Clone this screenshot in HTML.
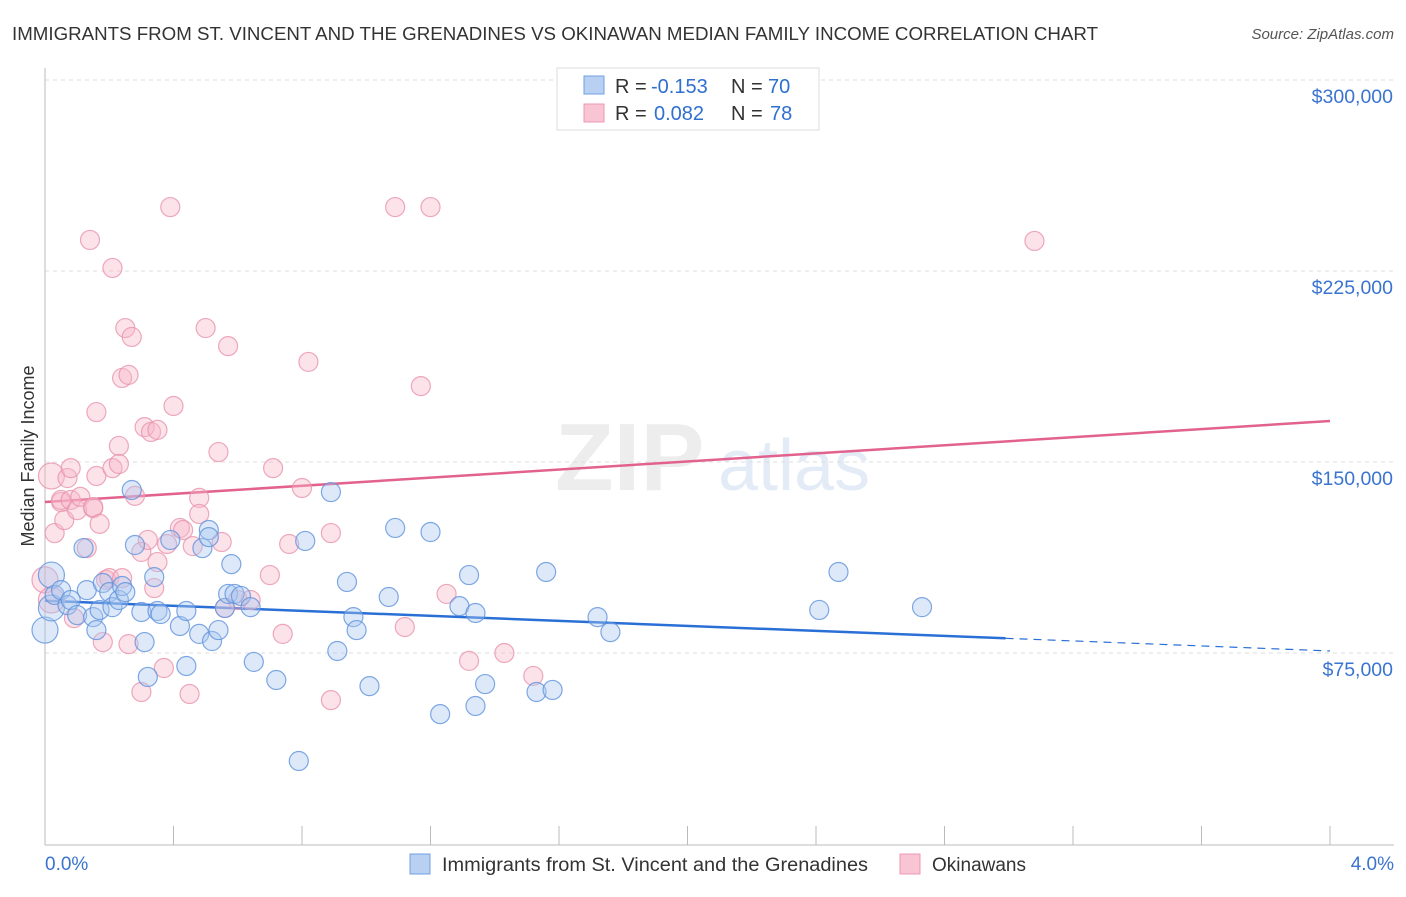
<!DOCTYPE html>
<html><head><meta charset="utf-8"><style>
body{margin:0;background:#fff;font-family:"Liberation Sans",sans-serif}
svg text{font-family:"Liberation Sans",sans-serif}
</style></head><body>
<svg id="chart" width="1406" height="892" xmlns="http://www.w3.org/2000/svg">
<text x="12" y="40" font-size="18" fill="#333" textLength="1086" lengthAdjust="spacingAndGlyphs">IMMIGRANTS FROM ST. VINCENT AND THE GRENADINES VS OKINAWAN MEDIAN FAMILY INCOME CORRELATION CHART</text>
<text x="1394" y="39" font-size="15" fill="#555" text-anchor="end" font-style="italic">Source: ZipAtlas.com</text>
<g opacity="0.5">
<text x="555" y="490" font-size="96" fill="#ddd" font-family="Liberation Serif" font-weight="bold">ZIP</text>
<text x="718" y="490" font-size="72" fill="#c9d9f0">atlas</text>
</g>
<g id="grid"></g>
<g id="axes"></g>
<g id="trends"></g>
<g id="pts"></g>
<text transform="translate(34,456) rotate(-90)" font-size="18" fill="#333" text-anchor="middle">Median Family Income</text>
<g>
<rect x="557" y="68" width="262" height="62" fill="#fff" stroke="#ddd"/>
<rect x="584" y="76" width="20" height="18" fill="#b8d1f3" stroke="#6f9fe0"/>
<rect x="584" y="104" width="20" height="18" fill="#f9c5d4" stroke="#eb98b2"/>
<text x="615" y="93" font-size="20" fill="#333">R =</text>
<text x="651" y="93" font-size="20" fill="#2f6fd0">-0.153</text>
<text x="731" y="93" font-size="20" fill="#333">N =</text>
<text x="768" y="93" font-size="20" fill="#2f6fd0">70</text>
<text x="615" y="120" font-size="20" fill="#333">R =</text>
<text x="654" y="120" font-size="20" fill="#2f6fd0">0.082</text>
<text x="731" y="120" font-size="20" fill="#333">N =</text>
<text x="770" y="120" font-size="20" fill="#2f6fd0">78</text>
</g>
<g>
<rect x="410" y="854" width="20" height="20" fill="#b8d1f3" stroke="#6f9fe0"/>
<text x="442" y="871" font-size="19" fill="#333" textLength="426" lengthAdjust="spacingAndGlyphs">Immigrants from St. Vincent and the Grenadines</text>
<rect x="900" y="854" width="20" height="20" fill="#f9c5d4" stroke="#eb98b2"/>
<text x="932" y="871" font-size="19" fill="#333">Okinawans</text>
</g>
</svg>
<script>
const yTicks=[75000,150000,225000,300000];
const yTickLabels=["$75,000","$150,000","$225,000","$300,000"];
const xTickLabels=["0.0%","4.0%"];
const blueX=[0.00,0.02,0.02,0.03,0.05,0.07,0.08,0.10,0.12,0.13,0.15,0.16,0.17,0.18,0.20,0.21,0.23,0.24,0.25,0.27,0.28,0.30,0.31,0.32,0.34,0.35,0.36,0.39,0.42,0.44,0.44,0.48,0.49,0.51,0.51,0.52,0.54,0.56,0.57,0.58,0.59,0.61,0.64,0.65,0.72,0.79,0.81,0.89,0.91,0.94,0.96,0.97,1.01,1.07,1.09,1.20,1.23,1.29,1.32,1.34,1.34,1.37,1.53,1.56,1.58,1.72,1.76,2.41,2.47,2.73];
const blueY=[84.0,92.7,105.6,97.8,99.7,93.8,95.8,89.9,116.2,99.7,89.1,84.0,91.9,102.5,98.9,93.0,95.8,101.3,98.9,139.0,117.4,91.1,79.3,65.6,104.8,91.5,90.3,119.4,85.6,91.5,69.9,82.5,116.2,123.3,120.5,79.7,84.0,92.7,98.2,109.9,98.2,97.4,93.0,71.5,64.4,32.6,119.0,138.2,75.8,102.9,89.1,84.0,62.0,97.0,124.1,122.5,51.0,93.4,105.6,90.7,54.2,62.8,59.7,106.8,60.5,89.1,83.2,91.9,106.8,93.0];
const pinkX=[0.00,0.02,0.02,0.03,0.05,0.05,0.06,0.07,0.08,0.08,0.09,0.10,0.11,0.13,0.14,0.15,0.15,0.16,0.16,0.17,0.18,0.19,0.20,0.21,0.21,0.23,0.23,0.24,0.24,0.25,0.26,0.26,0.27,0.28,0.30,0.30,0.31,0.32,0.33,0.34,0.35,0.35,0.37,0.38,0.39,0.40,0.42,0.43,0.45,0.46,0.48,0.48,0.50,0.54,0.55,0.56,0.57,0.60,0.64,0.70,0.71,0.74,0.76,0.80,0.82,0.89,0.89,1.09,1.12,1.17,1.20,1.25,1.32,1.43,1.52,3.08];
const pinkY=[103.7,144.5,95.8,122.1,134.3,135.1,127.2,143.7,147.6,135.1,88.7,131.1,136.3,116.2,237.2,131.9,132.3,144.5,169.6,125.7,79.3,103.7,104.4,147.6,226.2,156.3,149.2,104.4,183.0,202.6,184.2,78.5,199.1,136.7,114.7,59.7,163.7,119.4,161.8,100.5,110.7,162.6,69.1,117.8,250.1,172.0,124.1,123.3,58.9,117.0,135.9,129.6,202.6,153.9,118.6,92.7,195.5,95.8,95.8,105.6,147.6,82.5,117.8,139.8,189.3,56.5,122.1,250.1,85.2,179.8,250.1,98.2,71.9,75.0,66.0,236.8];
const blueTrend=[95.5,75.8]; // at 0% and 4%
const blueSolidEnd=2.99;
const pinkTrend=[134.3,166.1];
const NS="http://www.w3.org/2000/svg";
const X=p=>45+p/4*1285;
const Y=v=>80+(300000-v)/75000*191;
function mk(parent,tag,attrs){const e=document.createElementNS(NS,tag);for(const k in attrs)e.setAttribute(k,attrs[k]);document.getElementById(parent).appendChild(e);return e;}
yTicks.forEach((t,i)=>{
  const g=mk('grid','line',{x1:45,x2:1394,y1:Y(t),y2:Y(t),stroke:'#ddd','stroke-dasharray':'4,4'});
  
  
  const l=mk('axes','text',{x:1393,y:Y(t)+23,'font-size':19.5,fill:'#3a74d0','text-anchor':'end'});
  
  
  l.textContent=yTickLabels[i];
});
const ax=mk('axes','line',{x1:45,x2:45,y1:68,y2:845,stroke:'#bbb'});


const bx=mk('axes','line',{x1:45,x2:1394,y1:845,y2:845,stroke:'#bbb'});


for(let i=0;i<=10;i++){const t=mk('axes','line',{x1:X(i*0.4),x2:X(i*0.4),y1:826,y2:845,stroke:'#bbb'});

}
const xl0=mk('axes','text',{x:45,y:870,'font-size':19,fill:'#3a74d0'});xl0.textContent=xTickLabels[0];


const xl1=mk('axes','text',{x:1394,y:870,'font-size':19,fill:'#3a74d0','text-anchor':'end'});xl1.textContent=xTickLabels[1];


function pts(xs,ys,fill,stroke,name){xs.forEach((x,i)=>{const big=x<0.03&&i<3;const c=mk('pts','circle',{cx:X(x),cy:Y(ys[i]*1000),r:big?13:9.5,fill:fill,'fill-opacity':0.4,stroke:stroke,'stroke-opacity':0.8,'stroke-width':1.2});

});}
pts(pinkX,pinkY,'#f7b6c9','#e993ae','okinawan-point');
pts(blueX,blueY,'#a9c8f0','#5f92dc','immigrant-point');
const bv=p=>blueTrend[0]+(blueTrend[1]-blueTrend[0])*p/4;
const b1=mk('trends','line',{x1:X(0),y1:Y(bv(0)*1000),x2:X(blueSolidEnd),y2:Y(bv(blueSolidEnd)*1000),stroke:'#2a6fd6','stroke-width':2.5});


const b2=mk('trends','line',{x1:X(blueSolidEnd),y1:Y(bv(blueSolidEnd)*1000),x2:X(4),y2:Y(bv(4)*1000),stroke:'#2a6fd6','stroke-width':1.2,'stroke-dasharray':'8,6'});


const p1=mk('trends','line',{x1:X(0),y1:Y(pinkTrend[0]*1000),x2:X(4),y2:Y(pinkTrend[1]*1000),stroke:'#e2628d','stroke-width':2.5});


</script>
</body></html>
